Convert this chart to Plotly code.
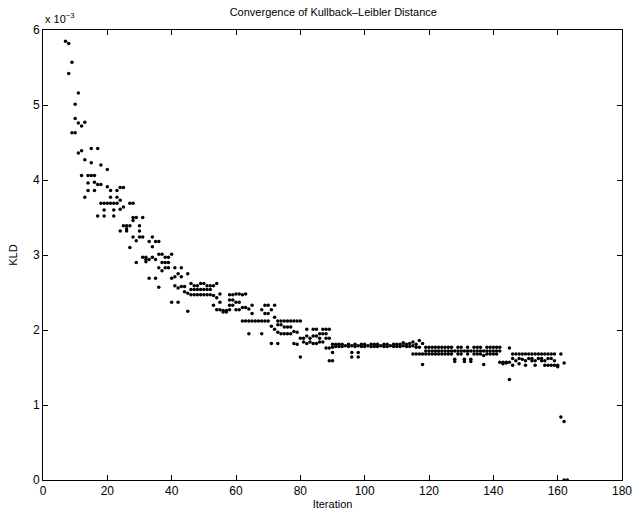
import plotly.graph_objects as go

# KLD values are in units of 1e-3
iterations = list(range(7, 164))
kld_values = [
    [5.85], [5.82, 5.42], [5.57, 4.63], [5.01, 4.82, 4.63], [5.16, 4.76, 4.36],          # 7-11
    [4.72, 4.39, 4.06], [4.77, 4.27, 3.77], [4.06, 3.96, 3.86], [4.42, 4.23, 4.06],       # 12-15
    [4.06, 3.97, 3.86], [4.42, 3.94, 3.52], [4.20, 3.94, 3.69], [3.69, 3.60, 3.52],       # 16-19
    [4.14, 3.91, 3.69], [3.86, 3.77, 3.69], [3.69, 3.60, 3.52], [3.86, 3.77, 3.69],       # 20-23
    [3.90, 3.73, 3.61, 3.32], [3.90, 3.64, 3.39], [3.39, 3.35, 3.32], [3.69, 3.39, 3.10], # 24-27
    [3.69, 3.50, 3.46, 3.24], [3.50, 3.19, 2.90], [3.39, 3.32, 3.24], [3.50, 3.24, 2.97], # 28-31
    [2.97, 2.94, 2.91], [3.18, 2.94, 2.69], [3.24, 3.11, 2.97], [3.18, 2.94, 2.69],       # 32-35
    [3.18, 3.01, 2.83, 2.57], [3.01, 2.90, 2.79], [2.97, 2.90, 2.83], [2.97, 2.90, 2.83], # 36-39
    [3.01, 2.69, 2.37], [2.83, 2.71, 2.59], [2.75, 2.56, 2.37], [2.83, 2.71, 2.58],       # 40-43
    [2.58, 2.51], [2.75, 2.49, 2.25], [2.62, 2.54, 2.47], [2.59, 2.54, 2.47],             # 44-47
    [2.59, 2.54, 2.47], [2.62, 2.54, 2.47], [2.62, 2.54, 2.47], [2.59, 2.54, 2.47],       # 48-51
    [2.59, 2.54, 2.47], [2.59, 2.46, 2.33], [2.62, 2.43, 2.27], [2.48, 2.37, 2.27],       # 52-55
    [2.26, 2.24], [2.26, 2.24], [2.47, 2.40, 2.33, 2.27], [2.47, 2.40, 2.33],             # 56-59
    [2.48, 2.37, 2.27], [2.48, 2.37, 2.27], [2.47, 2.30, 2.12], [2.48, 2.30, 2.12],       # 60-63
    [2.28, 2.12, 1.95], [2.33, 2.22, 2.12], [2.12], [2.12],                               # 64-67
    [2.27, 2.12, 1.95], [2.33, 2.22, 2.12], [2.33, 2.22, 2.12], [2.27, 2.05, 1.82],       # 68-71
    [2.33, 2.17, 2.01], [2.12, 2.07, 1.97, 1.82], [2.12, 2.07, 1.95], [2.12, 2.04, 1.95], # 72-75
    [2.12, 2.04, 1.95], [2.12, 2.04, 1.95], [2.12, 1.98, 1.82], [2.12, 1.97, 1.81],       # 76-79
    [2.12, 1.89, 1.64], [1.89, 1.84], [2.01, 1.92, 1.82], [1.89, 1.84],                   # 80-83
    [2.01, 1.92, 1.82], [2.01, 1.92, 1.82], [1.95, 1.89, 1.84], [2.01, 1.95, 1.84],       # 84-87
    [2.01, 1.95, 1.89, 1.76], [2.01, 1.89, 1.76, 1.59], [1.81, 1.77, 1.70, 1.59],         # 88-90
    [1.81, 1.78], [1.81, 1.78], [1.81, 1.78], [1.79], [1.81, 1.78],                       # 91-95
    [1.79, 1.70, 1.64], [1.81, 1.78], [1.79, 1.70, 1.64], [1.81, 1.78], [1.81, 1.78],     # 96-100
    [1.79], [1.81, 1.78], [1.81, 1.78], [1.81, 1.78], [1.79],                             # 101-105
    [1.81, 1.78], [1.81, 1.78], [1.79], [1.81, 1.78], [1.81, 1.78],                       # 106-110
    [1.81, 1.78], [1.83, 1.79], [1.81, 1.78], [1.82, 1.78], [1.84, 1.79, 1.68],           # 111-115
    [1.81, 1.77, 1.68], [1.86, 1.77, 1.68], [1.82, 1.68, 1.54],                           # 116-118
    [1.77, 1.72, 1.68], [1.77, 1.72, 1.68], [1.77, 1.72, 1.68], [1.77, 1.72, 1.68],       # 119-122
    [1.77, 1.72, 1.68], [1.77, 1.72, 1.68], [1.77, 1.72, 1.68], [1.77, 1.72, 1.68],       # 123-126
    [1.77, 1.72, 1.68], [1.72, 1.61, 1.58], [1.77, 1.72, 1.68], [1.77, 1.72, 1.68],       # 127-130
    [1.72, 1.61, 1.58], [1.77, 1.72, 1.68], [1.72, 1.61, 1.58], [1.77, 1.72, 1.68],       # 131-134
    [1.77, 1.72, 1.68], [1.77, 1.72, 1.68], [1.72, 1.66, 1.54], [1.77, 1.72, 1.68],       # 135-138
    [1.77, 1.72, 1.68], [1.77, 1.72, 1.68], [1.77, 1.72, 1.68], [1.77, 1.72, 1.57],       # 139-142
    [1.57, 1.55], [1.57, 1.56], [1.76, 1.57, 1.34],                                       # 143-145
    [1.68, 1.62, 1.53], [1.68, 1.59], [1.68, 1.62, 1.55], [1.68, 1.61],                   # 146-149
    [1.68, 1.59, 1.53], [1.68, 1.62], [1.68, 1.62, 1.59], [1.68, 1.59, 1.53],             # 150-153
    [1.68, 1.62], [1.68, 1.62, 1.59], [1.68, 1.59, 1.53], [1.68, 1.62, 1.53],             # 154-157
    [1.68, 1.62, 1.53], [1.68, 1.59, 1.53], [1.53, 1.51],                                 # 158-160
    [1.68, 0.84], [1.56, 0.78, 0.0], [0.0],                                               # 161-163
]

x_ticks = list(range(0, 181, 20))
y_ticks = list(range(0, 7))

xs, ys = [], []
for it, vals in zip(iterations, kld_values):
    for v in vals:
        xs.append(it)
        ys.append(v)

FONT = "Liberation Sans, Arial, Helvetica, sans-serif"

fig = go.Figure(go.Scatter(
    x=xs, y=ys, mode="markers",
    marker=dict(color="black", size=3.5, line=dict(width=0)),
    showlegend=False, hoverinfo="skip",
))

axis_common = dict(
    showgrid=False, zeroline=False, showline=True, linecolor="black", linewidth=1,
    mirror="ticks", ticks="inside", ticklen=5, tickwidth=1, tickcolor="black",
    tickfont=dict(family=FONT, size=12, color="black"),
)

fig.update_layout(
    width=644, height=520,
    margin=dict(l=43, r=20, t=30, b=34),
    plot_bgcolor="white", paper_bgcolor="white",
    font=dict(family=FONT, size=11, color="black"),
    title=dict(text="Convergence of Kullback\u2013Leibler Distance", x=0.5176, xanchor="center",
               y=0.977, yanchor="middle", font=dict(family=FONT, size=11, color="black")),
    xaxis=dict(range=[0, 180], tickvals=x_ticks, ticktext=[str(t) for t in x_ticks],
               title=dict(text="Iteration", standoff=2, font=dict(family=FONT, size=11)),
               **axis_common),
    yaxis=dict(range=[0, 6], tickvals=y_ticks, ticktext=[str(t) for t in y_ticks],
               title=dict(text="KLD", standoff=13, font=dict(family=FONT, size=11)),
               **axis_common),
    annotations=[dict(text="x 10<sup>\u22123</sup>", xref="paper", yref="paper", x=0.0, y=1.0,
                      xanchor="left", yanchor="bottom", yshift=3, showarrow=False,
                      font=dict(family=FONT, size=11, color="black"))],
)

fig.write_html("out.html")
